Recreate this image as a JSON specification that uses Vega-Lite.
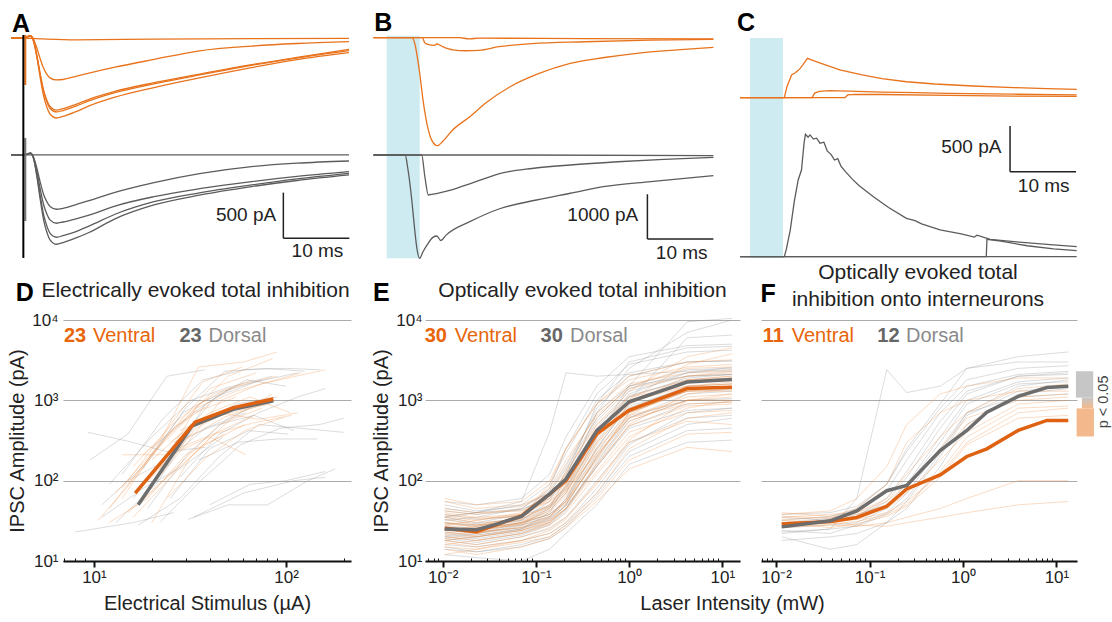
{
  "$schema": "https://vega.github.io/schema/vega-lite/v6.json",
  "width": 1112,
  "height": 561,
  "autosize": {"type": "none"},
  "padding": {"left": 0, "top": 0, "right": 0, "bottom": 61},
  "background": "white",
  "config": {
    "view": {"stroke": null},
    "font": "Liberation Sans",
    "axis": {"labelFont": "Liberation Sans", "titleFont": "Liberation Sans", "labelColor": "#222", "titleColor": "#222", "titleFontWeight": "normal", "labelFontSize": 17, "titleFontSize": 20, "gridColor": "#ababab", "gridWidth": 1.2, "domainColor": "#111", "tickColor": "#111"}
  },
  "datasets": {
    "aO": [
      {"i":1,"t":-2,"v":0},{"i":1,"t":0,"v":0},{"i":1,"t":3,"v":-10},{"i":1,"t":8,"v":-20},{"i":1,"t":20,"v":-12},{"i":1,"t":35,"v":-6},{"i":1,"t":50,"v":-3},
      {"i":2,"t":-2,"v":0},{"i":2,"t":0,"v":0},{"i":2,"t":1,"v":25},{"i":2,"t":1.5,"v":-20},{"i":2,"t":2,"v":-115},{"i":2,"t":2.5,"v":-230},{"i":2,"t":3,"v":-330},{"i":2,"t":3.5,"v":-395},{"i":2,"t":4,"v":-437},{"i":2,"t":5,"v":-460},{"i":2,"t":6,"v":-455},{"i":2,"t":8,"v":-420},{"i":2,"t":10,"v":-385},{"i":2,"t":14,"v":-320},{"i":2,"t":20,"v":-235},{"i":2,"t":27,"v":-140},{"i":2,"t":35,"v":-88},{"i":2,"t":42,"v":-60},{"i":2,"t":50,"v":-40},
      {"i":3,"t":-2,"v":0},{"i":3,"t":0,"v":0},{"i":3,"t":1,"v":25},{"i":3,"t":1.5,"v":-40},{"i":3,"t":2,"v":-200},{"i":3,"t":2.5,"v":-395},{"i":3,"t":3,"v":-570},{"i":3,"t":3.5,"v":-680},{"i":3,"t":4,"v":-750},{"i":3,"t":5,"v":-790},{"i":3,"t":6,"v":-775},{"i":3,"t":8,"v":-727},{"i":3,"t":10,"v":-672},{"i":3,"t":14,"v":-585},{"i":3,"t":20,"v":-490},{"i":3,"t":27,"v":-395},{"i":3,"t":35,"v":-292},{"i":3,"t":42,"v":-213},{"i":3,"t":50,"v":-124},
      {"i":4,"t":-2,"v":0},{"i":4,"t":0,"v":0},{"i":4,"t":1,"v":25},{"i":4,"t":1.5,"v":-40},{"i":4,"t":2,"v":-203},{"i":4,"t":2.5,"v":-405},{"i":4,"t":3,"v":-584},{"i":4,"t":3.5,"v":-697},{"i":4,"t":4,"v":-770},{"i":4,"t":5,"v":-811},{"i":4,"t":6,"v":-795},{"i":4,"t":8,"v":-746},{"i":4,"t":10,"v":-690},{"i":4,"t":14,"v":-600},{"i":4,"t":20,"v":-503},{"i":4,"t":27,"v":-405},{"i":4,"t":35,"v":-300},{"i":4,"t":42,"v":-220},{"i":4,"t":50,"v":-139},
      {"i":5,"t":-2,"v":0},{"i":5,"t":0,"v":0},{"i":5,"t":1,"v":25},{"i":5,"t":1.5,"v":-44},{"i":5,"t":2,"v":-219},{"i":5,"t":2.5,"v":-438},{"i":5,"t":3,"v":-631},{"i":5,"t":3.5,"v":-754},{"i":5,"t":4,"v":-833},{"i":5,"t":5,"v":-877},{"i":5,"t":6,"v":-860},{"i":5,"t":8,"v":-807},{"i":5,"t":10,"v":-745},{"i":5,"t":14,"v":-649},{"i":5,"t":20,"v":-544},{"i":5,"t":27,"v":-438},{"i":5,"t":35,"v":-325},{"i":5,"t":42,"v":-237},{"i":5,"t":50,"v":-161}
    ],
    "aG": [
      {"i":1,"t":-2,"v":0},{"i":1,"t":0,"v":0},{"i":1,"t":50,"v":0},
      {"i":2,"t":-2,"v":0},{"i":2,"t":0,"v":0},{"i":2,"t":1,"v":20},{"i":2,"t":1.5,"v":-30},{"i":2,"t":2,"v":-150},{"i":2,"t":2.5,"v":-300},{"i":2,"t":3,"v":-430},{"i":2,"t":3.5,"v":-510},{"i":2,"t":4,"v":-565},{"i":2,"t":5,"v":-595},{"i":2,"t":6,"v":-585},{"i":2,"t":8,"v":-545},{"i":2,"t":10,"v":-500},{"i":2,"t":14,"v":-410},{"i":2,"t":20,"v":-303},{"i":2,"t":27,"v":-205},{"i":2,"t":35,"v":-128},{"i":2,"t":42,"v":-90},{"i":2,"t":50,"v":-66},
      {"i":3,"t":-2,"v":0},{"i":3,"t":0,"v":0},{"i":3,"t":1,"v":20},{"i":3,"t":1.5,"v":-37},{"i":3,"t":2,"v":-187},{"i":3,"t":2.5,"v":-375},{"i":3,"t":3,"v":-540},{"i":3,"t":3.5,"v":-645},{"i":3,"t":4,"v":-712},{"i":3,"t":5,"v":-749},{"i":3,"t":6,"v":-735},{"i":3,"t":8,"v":-700},{"i":3,"t":10,"v":-660},{"i":3,"t":14,"v":-560},{"i":3,"t":20,"v":-457},{"i":3,"t":27,"v":-370},{"i":3,"t":35,"v":-292},{"i":3,"t":42,"v":-235},{"i":3,"t":50,"v":-183},
      {"i":4,"t":-2,"v":0},{"i":4,"t":0,"v":0},{"i":4,"t":1,"v":20},{"i":4,"t":1.5,"v":-45},{"i":4,"t":2,"v":-225},{"i":4,"t":2.5,"v":-450},{"i":4,"t":3,"v":-650},{"i":4,"t":3.5,"v":-775},{"i":4,"t":4,"v":-857},{"i":4,"t":5,"v":-902},{"i":4,"t":6,"v":-885},{"i":4,"t":8,"v":-840},{"i":4,"t":10,"v":-780},{"i":4,"t":14,"v":-650},{"i":4,"t":20,"v":-512},{"i":4,"t":27,"v":-415},{"i":4,"t":35,"v":-329},{"i":4,"t":42,"v":-262},{"i":4,"t":50,"v":-201},
      {"i":5,"t":-2,"v":0},{"i":5,"t":0,"v":0},{"i":5,"t":1,"v":20},{"i":5,"t":1.5,"v":-49},{"i":5,"t":2,"v":-245},{"i":5,"t":2.5,"v":-490},{"i":5,"t":3,"v":-705},{"i":5,"t":3.5,"v":-842},{"i":5,"t":4,"v":-930},{"i":5,"t":5,"v":-979},{"i":5,"t":6,"v":-960},{"i":5,"t":8,"v":-910},{"i":5,"t":10,"v":-850},{"i":5,"t":14,"v":-700},{"i":5,"t":20,"v":-548},{"i":5,"t":27,"v":-440},{"i":5,"t":35,"v":-347},{"i":5,"t":42,"v":-280},{"i":5,"t":50,"v":-219}
    ],
    "bO": [
      {"i":1,"t":-2,"v":0},{"i":1,"t":11,"v":0},{"i":1,"t":12.5,"v":-25},{"i":1,"t":14,"v":-10},{"i":1,"t":30,"v":-20},{"i":1,"t":49.5,"v":-25},
      {"i":2,"t":-2,"v":0},{"i":2,"t":5.4,"v":0},{"i":2,"t":5.8,"v":-120},{"i":2,"t":6.5,"v":-160},{"i":2,"t":7.2,"v":-170},{"i":2,"t":7.6,"v":-140},{"i":2,"t":8.5,"v":-200},{"i":2,"t":10,"v":-270},{"i":2,"t":12,"v":-290},{"i":2,"t":14,"v":-280},{"i":2,"t":17,"v":-200},{"i":2,"t":22,"v":-130},{"i":2,"t":30,"v":-90},{"i":2,"t":40,"v":-55},{"i":2,"t":49.5,"v":-35},
      {"i":3,"t":-2,"v":0},{"i":3,"t":3.8,"v":0},{"i":3,"t":4.2,"v":-100},{"i":3,"t":5,"v":-790},{"i":3,"t":5.5,"v":-1380},{"i":3,"t":6.2,"v":-1980},{"i":3,"t":6.8,"v":-2270},{"i":3,"t":7.7,"v":-2400},{"i":3,"t":8.5,"v":-2300},{"i":3,"t":10,"v":-2050},{"i":3,"t":12.6,"v":-1755},{"i":3,"t":15,"v":-1450},{"i":3,"t":18.7,"v":-1090},{"i":3,"t":23,"v":-800},{"i":3,"t":27.8,"v":-570},{"i":3,"t":33,"v":-440},{"i":3,"t":37.9,"v":-347},{"i":3,"t":44,"v":-270},{"i":3,"t":49.5,"v":-213}
    ],
    "bG": [
      {"i":1,"t":-2,"v":0},{"i":1,"t":20,"v":0},{"i":1,"t":49.5,"v":-15},
      {"i":2,"t":-2,"v":0},{"i":2,"t":5.3,"v":0},{"i":2,"t":5.8,"v":-500},{"i":2,"t":6.3,"v":-889},{"i":2,"t":7,"v":-870},{"i":2,"t":8,"v":-840},{"i":2,"t":10.1,"v":-763},{"i":2,"t":13,"v":-620},{"i":2,"t":17.7,"v":-393},{"i":2,"t":22,"v":-300},{"i":2,"t":27.8,"v":-222},{"i":2,"t":35,"v":-150},{"i":2,"t":42,"v":-95},{"i":2,"t":49.5,"v":-52},
      {"i":3,"t":-2,"v":0},{"i":3,"t":2.8,"v":0},{"i":3,"t":3.2,"v":-300},{"i":3,"t":3.8,"v":-1000},{"i":3,"t":4.2,"v":-1600},{"i":3,"t":4.6,"v":-2100},{"i":3,"t":5,"v":-2296},{"i":3,"t":5.5,"v":-2150},{"i":3,"t":6.2,"v":-1980},{"i":3,"t":7,"v":-1830},{"i":3,"t":7.6,"v":-1800},{"i":3,"t":8.2,"v":-1900},{"i":3,"t":9,"v":-1780},{"i":3,"t":12.6,"v":-1482},{"i":3,"t":17,"v":-1200},{"i":3,"t":22.7,"v":-1000},{"i":3,"t":27.8,"v":-850},{"i":3,"t":32.8,"v":-704},{"i":3,"t":40,"v":-590},{"i":3,"t":49.5,"v":-460}
    ],
    "cO": [
      {"i":1,"t":-1.5,"v":0},{"i":1,"t":5.2,"v":0},{"i":1,"t":5.6,"v":120},{"i":1,"t":6.3,"v":249},{"i":1,"t":6.8,"v":270},{"i":1,"t":7.3,"v":300},{"i":1,"t":7.6,"v":322},{"i":1,"t":8,"v":360},{"i":1,"t":8.7,"v":432},{"i":1,"t":9.5,"v":410},{"i":1,"t":11,"v":370},{"i":1,"t":13.6,"v":304},{"i":1,"t":17,"v":250},{"i":1,"t":20,"v":210},{"i":1,"t":23.7,"v":175},{"i":1,"t":28,"v":150},{"i":1,"t":33.8,"v":128},{"i":1,"t":40,"v":110},{"i":1,"t":45,"v":100},{"i":1,"t":49.5,"v":92},
      {"i":2,"t":-1.5,"v":0},{"i":2,"t":9.4,"v":0},{"i":2,"t":9.8,"v":50},{"i":2,"t":10.5,"v":70},{"i":2,"t":12,"v":77},{"i":2,"t":15,"v":72},{"i":2,"t":20,"v":62},{"i":2,"t":25,"v":55},{"i":2,"t":30,"v":48},{"i":2,"t":40,"v":38},{"i":2,"t":49.5,"v":30},
      {"i":3,"t":-1.5,"v":0},{"i":3,"t":14.4,"v":0},{"i":3,"t":14.8,"v":30},{"i":3,"t":16,"v":37},{"i":3,"t":20,"v":35},{"i":3,"t":30,"v":25},{"i":3,"t":40,"v":18},{"i":3,"t":49.5,"v":15}
    ],
    "cG": [
      {"i":1,"t":-1.5,"v":0},{"i":1,"t":5.2,"v":0},{"i":1,"t":5.5,"v":80},{"i":1,"t":6.1,"v":292},{"i":1,"t":6.7,"v":600},{"i":1,"t":7.3,"v":841},{"i":1,"t":7.8,"v":950},{"i":1,"t":8.2,"v":1250},{"i":1,"t":8.4,"v":1342},{"i":1,"t":8.8,"v":1310},{"i":1,"t":9.1,"v":1335},{"i":1,"t":9.6,"v":1290},{"i":1,"t":10.1,"v":1300},{"i":1,"t":10.6,"v":1245},{"i":1,"t":11.2,"v":1255},{"i":1,"t":11.7,"v":1160},{"i":1,"t":12.3,"v":1120},{"i":1,"t":12.8,"v":1060},{"i":1,"t":13.3,"v":1075},{"i":1,"t":13.8,"v":990},{"i":1,"t":14.5,"v":930},{"i":1,"t":15.5,"v":850},{"i":1,"t":16.5,"v":780},{"i":1,"t":18.7,"v":658},{"i":1,"t":21,"v":540},{"i":1,"t":23.7,"v":421},{"i":1,"t":25,"v":395},{"i":1,"t":26,"v":360},{"i":1,"t":28.8,"v":293},{"i":1,"t":32,"v":250},{"i":1,"t":34,"v":215},{"i":1,"t":34.4,"v":235},{"i":1,"t":36.4,"v":190},{"i":1,"t":40,"v":165},{"i":1,"t":45,"v":135},{"i":1,"t":49.5,"v":110},
      {"i":2,"t":-1.5,"v":0},{"i":2,"t":35.8,"v":0},{"i":2,"t":35.9,"v":190},{"i":2,"t":38,"v":170},{"i":2,"t":42,"v":120},{"i":2,"t":46,"v":85},{"i":2,"t":49.5,"v":66},
      {"i":3,"t":-1.5,"v":0},{"i":3,"t":49.5,"v":0}
    ],
    "dT": [
      {"g":"D","i":1,"x":8,"y":23},{"g":"D","i":1,"x":16,"y":30},{"g":"D","i":1,"x":26,"y":40},
      {"g":"D","i":2,"x":9.5,"y":180},{"g":"D","i":2,"x":15,"y":380},{"g":"D","i":2,"x":24,"y":2000},{"g":"D","i":2,"x":38,"y":2400},
      {"g":"D","i":3,"x":9.3,"y":400},{"g":"D","i":3,"x":15,"y":310},{"g":"D","i":3,"x":24,"y":230},{"g":"D","i":3,"x":38,"y":260},
      {"g":"D","i":4,"x":11,"y":50},{"g":"D","i":4,"x":18,"y":150},{"g":"D","i":4,"x":29,"y":700},{"g":"D","i":4,"x":47,"y":1300},{"g":"D","i":4,"x":75,"y":1800},
      {"g":"D","i":5,"x":13,"y":30},{"g":"D","i":5,"x":21,"y":90},{"g":"D","i":5,"x":34,"y":500},{"g":"D","i":5,"x":55,"y":900},{"g":"D","i":5,"x":90,"y":1100},
      {"g":"D","i":6,"x":17,"y":28},{"g":"D","i":6,"x":28,"y":60},{"g":"D","i":6,"x":45,"y":200},{"g":"D","i":6,"x":72,"y":500},{"g":"D","i":6,"x":200,"y":400},
      {"g":"D","i":7,"x":31,"y":33},{"g":"D","i":7,"x":50,"y":50},{"g":"D","i":7,"x":80,"y":50},{"g":"D","i":7,"x":130,"y":100},{"g":"D","i":7,"x":180,"y":140},
      {"g":"D","i":8,"x":33,"y":35},{"g":"D","i":8,"x":60,"y":70},{"g":"D","i":8,"x":110,"y":100},{"g":"D","i":8,"x":160,"y":110},
      {"g":"D","i":9,"x":14,"y":120},{"g":"D","i":9,"x":23,"y":600},{"g":"D","i":9,"x":37,"y":1800},{"g":"D","i":9,"x":60,"y":2400},{"g":"D","i":9,"x":100,"y":2500},{"g":"D","i":9,"x":150,"y":2400},
      {"g":"D","i":10,"x":16,"y":60},{"g":"D","i":10,"x":27,"y":300},{"g":"D","i":10,"x":43,"y":1100},{"g":"D","i":10,"x":70,"y":1700},{"g":"D","i":10,"x":115,"y":2200},
      {"g":"D","i":11,"x":19,"y":45},{"g":"D","i":11,"x":31,"y":220},{"g":"D","i":11,"x":50,"y":600},{"g":"D","i":11,"x":80,"y":1000},
      {"g":"D","i":12,"x":22,"y":30},{"g":"D","i":12,"x":36,"y":100},{"g":"D","i":12,"x":58,"y":280},{"g":"D","i":12,"x":93,"y":450},{"g":"D","i":12,"x":150,"y":500},{"g":"D","i":12,"x":200,"y":600},
      {"g":"D","i":13,"x":12,"y":90},{"g":"D","i":13,"x":20,"y":350},{"g":"D","i":13,"x":32,"y":1000},{"g":"D","i":13,"x":52,"y":1500},
      {"g":"D","i":14,"x":25,"y":60},{"g":"D","i":14,"x":40,"y":250},{"g":"D","i":14,"x":64,"y":420},{"g":"D","i":14,"x":103,"y":380},
      {"g":"D","i":15,"x":18,"y":140},{"g":"D","i":15,"x":30,"y":800},{"g":"D","i":15,"x":48,"y":2300},{"g":"D","i":15,"x":78,"y":2500},{"g":"D","i":15,"x":125,"y":2300},
      {"g":"D","i":16,"x":28,"y":110},{"g":"D","i":16,"x":45,"y":380},{"g":"D","i":16,"x":72,"y":700},{"g":"D","i":16,"x":115,"y":1100},{"g":"D","i":16,"x":160,"y":1400},
      {"g":"D","i":17,"x":20,"y":250},{"g":"D","i":17,"x":33,"y":700},{"g":"D","i":17,"x":53,"y":1500},{"g":"D","i":17,"x":85,"y":2000},
      {"g":"D","i":18,"x":15,"y":100},{"g":"D","i":18,"x":24,"y":180},{"g":"D","i":18,"x":38,"y":450},{"g":"D","i":18,"x":62,"y":700},
      {"g":"D","i":19,"x":40,"y":50},{"g":"D","i":19,"x":65,"y":90},{"g":"D","i":19,"x":100,"y":100},{"g":"D","i":19,"x":160,"y":130},
      {"g":"D","i":20,"x":26,"y":300},{"g":"D","i":20,"x":42,"y":480},{"g":"D","i":20,"x":68,"y":650},{"g":"D","i":20,"x":110,"y":420},
      {"g":"D","i":21,"x":11,"y":35},{"g":"D","i":21,"x":18,"y":80},{"g":"D","i":21,"x":29,"y":150},{"g":"D","i":21,"x":47,"y":350},
      {"g":"D","i":22,"x":35,"y":180},{"g":"D","i":22,"x":56,"y":300},{"g":"D","i":22,"x":90,"y":330},{"g":"D","i":22,"x":145,"y":330},
      {"g":"D","i":23,"x":24,"y":150},{"g":"D","i":23,"x":38,"y":900},{"g":"D","i":23,"x":62,"y":1800},{"g":"D","i":23,"x":100,"y":1500},
      {"g":"V","i":1,"x":10.5,"y":32},{"g":"V","i":1,"x":17,"y":120},{"g":"V","i":1,"x":26,"y":450},{"g":"V","i":1,"x":40,"y":900},
      {"g":"V","i":2,"x":12,"y":45},{"g":"V","i":2,"x":20,"y":210},{"g":"V","i":2,"x":33,"y":700},{"g":"V","i":2,"x":55,"y":1100},
      {"g":"V","i":3,"x":14,"y":60},{"g":"V","i":3,"x":22,"y":300},{"g":"V","i":3,"x":35,"y":2600},{"g":"V","i":3,"x":60,"y":3000},{"g":"V","i":3,"x":90,"y":4000},
      {"g":"V","i":4,"x":15,"y":90},{"g":"V","i":4,"x":25,"y":400},{"g":"V","i":4,"x":40,"y":1400},{"g":"V","i":4,"x":70,"y":2200},
      {"g":"V","i":5,"x":16,"y":35},{"g":"V","i":5,"x":26,"y":120},{"g":"V","i":5,"x":42,"y":380},{"g":"V","i":5,"x":68,"y":650},
      {"g":"V","i":6,"x":18,"y":210},{"g":"V","i":6,"x":30,"y":600},{"g":"V","i":6,"x":50,"y":2000},{"g":"V","i":6,"x":85,"y":3300},
      {"g":"V","i":7,"x":14,"y":210},{"g":"V","i":7,"x":25,"y":210},{"g":"V","i":7,"x":40,"y":350},{"g":"V","i":7,"x":62,"y":210},
      {"g":"V","i":8,"x":20,"y":30},{"g":"V","i":8,"x":32,"y":200},{"g":"V","i":8,"x":52,"y":600},{"g":"V","i":8,"x":85,"y":1200},
      {"g":"V","i":9,"x":13,"y":70},{"g":"V","i":9,"x":21,"y":250},{"g":"V","i":9,"x":34,"y":800},{"g":"V","i":9,"x":55,"y":1300},{"g":"V","i":9,"x":120,"y":2200},
      {"g":"V","i":10,"x":17,"y":50},{"g":"V","i":10,"x":28,"y":160},{"g":"V","i":10,"x":45,"y":500},{"g":"V","i":10,"x":75,"y":800},
      {"g":"V","i":11,"x":22,"y":140},{"g":"V","i":11,"x":35,"y":900},{"g":"V","i":11,"x":56,"y":1500},{"g":"V","i":11,"x":90,"y":2000},
      {"g":"V","i":12,"x":25,"y":300},{"g":"V","i":12,"x":40,"y":700},{"g":"V","i":12,"x":65,"y":1100},{"g":"V","i":12,"x":105,"y":700},
      {"g":"V","i":13,"x":19,"y":95},{"g":"V","i":13,"x":30,"y":330},{"g":"V","i":13,"x":48,"y":620},{"g":"V","i":13,"x":78,"y":900},
      {"g":"V","i":14,"x":15,"y":40},{"g":"V","i":14,"x":24,"y":110},{"g":"V","i":14,"x":38,"y":280},{"g":"V","i":14,"x":61,"y":500},
      {"g":"V","i":15,"x":28,"y":420},{"g":"V","i":15,"x":45,"y":700},{"g":"V","i":15,"x":72,"y":580},{"g":"V","i":15,"x":115,"y":700},
      {"g":"V","i":16,"x":18,"y":65},{"g":"V","i":16,"x":29,"y":250},{"g":"V","i":16,"x":46,"y":1000},{"g":"V","i":16,"x":74,"y":1600},{"g":"V","i":16,"x":160,"y":2400},
      {"g":"V","i":17,"x":12,"y":30},{"g":"V","i":17,"x":19,"y":60},{"g":"V","i":17,"x":30,"y":210},{"g":"V","i":17,"x":48,"y":380},
      {"g":"V","i":18,"x":21,"y":110},{"g":"V","i":18,"x":34,"y":450},{"g":"V","i":18,"x":54,"y":800},{"g":"V","i":18,"x":87,"y":1100},
      {"g":"V","i":19,"x":16,"y":150},{"g":"V","i":19,"x":26,"y":520},{"g":"V","i":19,"x":42,"y":1200},{"g":"V","i":19,"x":67,"y":1800},
      {"g":"V","i":20,"x":24,"y":60},{"g":"V","i":20,"x":38,"y":190},{"g":"V","i":20,"x":61,"y":420},{"g":"V","i":20,"x":98,"y":620},
      {"g":"V","i":21,"x":14,"y":80},{"g":"V","i":21,"x":23,"y":380},{"g":"V","i":21,"x":37,"y":1700},{"g":"V","i":21,"x":59,"y":2600},
      {"g":"V","i":22,"x":20,"y":180},{"g":"V","i":22,"x":32,"y":500},{"g":"V","i":22,"x":51,"y":700},{"g":"V","i":22,"x":82,"y":900},
      {"g":"V","i":23,"x":26,"y":240},{"g":"V","i":23,"x":42,"y":380},{"g":"V","i":23,"x":67,"y":520},{"g":"V","i":23,"x":107,"y":650}
    ],
    "dM": [
      {"g":"D","x":17,"y":50},{"g":"D","x":32.3,"y":477},{"g":"D","x":53,"y":772},{"g":"D","x":86,"y":990},
      {"g":"V","x":16.4,"y":70},{"g":"V","x":33.6,"y":535},{"g":"V","x":53.2,"y":811},{"g":"V","x":85.9,"y":1040}
    ],
    "eT": [
      {"g":"D","i":1,"x":0.0105,"y":22},{"g":"D","i":1,"x":0.023,"y":20},{"g":"D","i":1,"x":0.07,"y":25},{"g":"D","i":1,"x":0.14,"y":40},{"g":"D","i":1,"x":0.21,"y":90},{"g":"D","i":1,"x":0.45,"y":700},{"g":"D","i":1,"x":1,"y":2500},{"g":"D","i":1,"x":4.2,"y":7000},{"g":"D","i":1,"x":12.7,"y":10000},
      {"g":"D","i":2,"x":0.0105,"y":30},{"g":"D","i":2,"x":0.023,"y":28},{"g":"D","i":2,"x":0.07,"y":32},{"g":"D","i":2,"x":0.14,"y":55},{"g":"D","i":2,"x":0.21,"y":130},{"g":"D","i":2,"x":0.45,"y":800},{"g":"D","i":2,"x":1,"y":2000},{"g":"D","i":2,"x":4.2,"y":3000},{"g":"D","i":2,"x":12.7,"y":3100},
      {"g":"D","i":3,"x":0.0105,"y":18},{"g":"D","i":3,"x":0.023,"y":16},{"g":"D","i":3,"x":0.07,"y":20},{"g":"D","i":3,"x":0.14,"y":25},{"g":"D","i":3,"x":0.21,"y":35},{"g":"D","i":3,"x":0.45,"y":100},{"g":"D","i":3,"x":1,"y":300},{"g":"D","i":3,"x":4.2,"y":600},{"g":"D","i":3,"x":12.7,"y":650},
      {"g":"D","i":4,"x":0.0105,"y":35},{"g":"D","i":4,"x":0.023,"y":40},{"g":"D","i":4,"x":0.07,"y":55},{"g":"D","i":4,"x":0.14,"y":400},{"g":"D","i":4,"x":0.21,"y":2200},{"g":"D","i":4,"x":0.45,"y":2000},{"g":"D","i":4,"x":1,"y":2100},{"g":"D","i":4,"x":4.2,"y":2300},{"g":"D","i":4,"x":12.7,"y":2400},
      {"g":"D","i":5,"x":0.0105,"y":25},{"g":"D","i":5,"x":0.023,"y":24},{"g":"D","i":5,"x":0.07,"y":28},{"g":"D","i":5,"x":0.14,"y":36},{"g":"D","i":5,"x":0.21,"y":55},{"g":"D","i":5,"x":0.45,"y":250},{"g":"D","i":5,"x":1,"y":900},{"g":"D","i":5,"x":4.2,"y":1700},{"g":"D","i":5,"x":12.7,"y":1800},
      {"g":"D","i":6,"x":0.0105,"y":15},{"g":"D","i":6,"x":0.023,"y":13},{"g":"D","i":6,"x":0.07,"y":16},{"g":"D","i":6,"x":0.14,"y":20},{"g":"D","i":6,"x":0.21,"y":28},{"g":"D","i":6,"x":0.45,"y":70},{"g":"D","i":6,"x":1,"y":230},{"g":"D","i":6,"x":4.2,"y":500},{"g":"D","i":6,"x":12.7,"y":600},
      {"g":"D","i":7,"x":0.0105,"y":50},{"g":"D","i":7,"x":0.023,"y":42},{"g":"D","i":7,"x":0.07,"y":48},{"g":"D","i":7,"x":0.14,"y":70},{"g":"D","i":7,"x":0.21,"y":140},{"g":"D","i":7,"x":0.45,"y":600},{"g":"D","i":7,"x":1,"y":1500},{"g":"D","i":7,"x":4.2,"y":2400},{"g":"D","i":7,"x":12.7,"y":2500},
      {"g":"D","i":8,"x":0.0105,"y":20},{"g":"D","i":8,"x":0.023,"y":22},{"g":"D","i":8,"x":0.07,"y":28},{"g":"D","i":8,"x":0.14,"y":45},{"g":"D","i":8,"x":0.21,"y":110},{"g":"D","i":8,"x":0.45,"y":900},{"g":"D","i":8,"x":1,"y":3000},{"g":"D","i":8,"x":4.2,"y":4500},{"g":"D","i":8,"x":12.7,"y":4700},
      {"g":"D","i":9,"x":0.0105,"y":28},{"g":"D","i":9,"x":0.023,"y":25},{"g":"D","i":9,"x":0.07,"y":30},{"g":"D","i":9,"x":0.14,"y":42},{"g":"D","i":9,"x":0.21,"y":70},{"g":"D","i":9,"x":0.45,"y":350},{"g":"D","i":9,"x":1,"y":1100},{"g":"D","i":9,"x":4.2,"y":1900},{"g":"D","i":9,"x":12.7,"y":2100},
      {"g":"D","i":10,"x":0.0105,"y":12},{"g":"D","i":10,"x":0.023,"y":11},{"g":"D","i":10,"x":0.07,"y":10},{"g":"D","i":10,"x":0.14,"y":14},{"g":"D","i":10,"x":0.21,"y":22},{"g":"D","i":10,"x":0.45,"y":50},{"g":"D","i":10,"x":1,"y":160},{"g":"D","i":10,"x":4.2,"y":300},{"g":"D","i":10,"x":12.7,"y":320},
      {"g":"D","i":11,"x":0.0105,"y":35},{"g":"D","i":11,"x":0.023,"y":30},{"g":"D","i":11,"x":0.07,"y":38},{"g":"D","i":11,"x":0.14,"y":80},{"g":"D","i":11,"x":0.21,"y":250},{"g":"D","i":11,"x":0.45,"y":1200},{"g":"D","i":11,"x":1,"y":2800},{"g":"D","i":11,"x":4.2,"y":4000},{"g":"D","i":11,"x":12.7,"y":4200},
      {"g":"D","i":12,"x":0.0105,"y":24},{"g":"D","i":12,"x":0.023,"y":26},{"g":"D","i":12,"x":0.07,"y":30},{"g":"D","i":12,"x":0.14,"y":38},{"g":"D","i":12,"x":0.21,"y":55},{"g":"D","i":12,"x":0.45,"y":220},{"g":"D","i":12,"x":1,"y":800},{"g":"D","i":12,"x":4.2,"y":1500},{"g":"D","i":12,"x":12.7,"y":1600},
      {"g":"D","i":13,"x":0.0105,"y":19},{"g":"D","i":13,"x":0.023,"y":17},{"g":"D","i":13,"x":0.07,"y":21},{"g":"D","i":13,"x":0.14,"y":28},{"g":"D","i":13,"x":0.21,"y":42},{"g":"D","i":13,"x":0.45,"y":150},{"g":"D","i":13,"x":1,"y":480},{"g":"D","i":13,"x":4.2,"y":900},{"g":"D","i":13,"x":12.7,"y":950},
      {"g":"D","i":14,"x":0.0105,"y":45},{"g":"D","i":14,"x":0.023,"y":40},{"g":"D","i":14,"x":0.07,"y":44},{"g":"D","i":14,"x":0.14,"y":60},{"g":"D","i":14,"x":0.21,"y":95},{"g":"D","i":14,"x":0.45,"y":450},{"g":"D","i":14,"x":1,"y":1300},{"g":"D","i":14,"x":4.2,"y":2000},{"g":"D","i":14,"x":12.7,"y":2100},
      {"g":"D","i":15,"x":0.0105,"y":27},{"g":"D","i":15,"x":0.023,"y":23},{"g":"D","i":15,"x":0.07,"y":26},{"g":"D","i":15,"x":0.14,"y":35},{"g":"D","i":15,"x":0.21,"y":60},{"g":"D","i":15,"x":0.45,"y":300},{"g":"D","i":15,"x":1,"y":1000},{"g":"D","i":15,"x":4.2,"y":6000},{"g":"D","i":15,"x":12.7,"y":6500},
      {"g":"D","i":16,"x":0.0105,"y":32},{"g":"D","i":16,"x":0.023,"y":35},{"g":"D","i":16,"x":0.07,"y":45},{"g":"D","i":16,"x":0.14,"y":75},{"g":"D","i":16,"x":0.21,"y":160},{"g":"D","i":16,"x":0.45,"y":700},{"g":"D","i":16,"x":1,"y":1500},{"g":"D","i":16,"x":4.2,"y":2000},{"g":"D","i":16,"x":12.7,"y":2100},
      {"g":"D","i":17,"x":0.0105,"y":16},{"g":"D","i":17,"x":0.023,"y":15},{"g":"D","i":17,"x":0.07,"y":18},{"g":"D","i":17,"x":0.14,"y":22},{"g":"D","i":17,"x":0.21,"y":30},{"g":"D","i":17,"x":0.45,"y":80},{"g":"D","i":17,"x":1,"y":280},{"g":"D","i":17,"x":4.2,"y":700},{"g":"D","i":17,"x":12.7,"y":800},
      {"g":"D","i":18,"x":0.0105,"y":38},{"g":"D","i":18,"x":0.023,"y":33},{"g":"D","i":18,"x":0.07,"y":36},{"g":"D","i":18,"x":0.14,"y":50},{"g":"D","i":18,"x":0.21,"y":85},{"g":"D","i":18,"x":0.45,"y":400},{"g":"D","i":18,"x":1,"y":1200},{"g":"D","i":18,"x":4.2,"y":2200},{"g":"D","i":18,"x":12.7,"y":2600},
      {"g":"D","i":19,"x":0.0105,"y":21},{"g":"D","i":19,"x":0.023,"y":19},{"g":"D","i":19,"x":0.07,"y":23},{"g":"D","i":19,"x":0.14,"y":30},{"g":"D","i":19,"x":0.21,"y":45},{"g":"D","i":19,"x":0.45,"y":170},{"g":"D","i":19,"x":1,"y":600},{"g":"D","i":19,"x":4.2,"y":1200},{"g":"D","i":19,"x":12.7,"y":1300},
      {"g":"D","i":20,"x":0.0105,"y":55},{"g":"D","i":20,"x":0.023,"y":50},{"g":"D","i":20,"x":0.07,"y":60},{"g":"D","i":20,"x":0.14,"y":120},{"g":"D","i":20,"x":0.21,"y":350},{"g":"D","i":20,"x":0.45,"y":1500},{"g":"D","i":20,"x":1,"y":3500},{"g":"D","i":20,"x":4.2,"y":4800},{"g":"D","i":20,"x":12.7,"y":5000},
      {"g":"D","i":21,"x":0.0105,"y":26},{"g":"D","i":21,"x":0.023,"y":24},{"g":"D","i":21,"x":0.07,"y":29},{"g":"D","i":21,"x":0.14,"y":38},{"g":"D","i":21,"x":0.21,"y":58},{"g":"D","i":21,"x":0.45,"y":260},{"g":"D","i":21,"x":1,"y":850},{"g":"D","i":21,"x":4.2,"y":1400},{"g":"D","i":21,"x":12.7,"y":1450},
      {"g":"D","i":22,"x":0.0105,"y":14},{"g":"D","i":22,"x":0.023,"y":13},{"g":"D","i":22,"x":0.07,"y":15},{"g":"D","i":22,"x":0.14,"y":19},{"g":"D","i":22,"x":0.21,"y":26},{"g":"D","i":22,"x":0.45,"y":65},{"g":"D","i":22,"x":1,"y":200},{"g":"D","i":22,"x":4.2,"y":420},{"g":"D","i":22,"x":12.7,"y":450},
      {"g":"D","i":23,"x":0.0105,"y":33},{"g":"D","i":23,"x":0.023,"y":29},{"g":"D","i":23,"x":0.07,"y":34},{"g":"D","i":23,"x":0.14,"y":48},{"g":"D","i":23,"x":0.21,"y":80},{"g":"D","i":23,"x":0.45,"y":380},{"g":"D","i":23,"x":1,"y":1150},{"g":"D","i":23,"x":4.2,"y":1800},{"g":"D","i":23,"x":12.7,"y":1900},
      {"g":"D","i":24,"x":0.0105,"y":23},{"g":"D","i":24,"x":0.023,"y":21},{"g":"D","i":24,"x":0.07,"y":25},{"g":"D","i":24,"x":0.14,"y":33},{"g":"D","i":24,"x":0.21,"y":50},{"g":"D","i":24,"x":0.45,"y":200},{"g":"D","i":24,"x":1,"y":700},{"g":"D","i":24,"x":4.2,"y":1300},{"g":"D","i":24,"x":12.7,"y":1350},
      {"g":"D","i":25,"x":0.0105,"y":42},{"g":"D","i":25,"x":0.023,"y":38},{"g":"D","i":25,"x":0.07,"y":43},{"g":"D","i":25,"x":0.14,"y":65},{"g":"D","i":25,"x":0.21,"y":120},{"g":"D","i":25,"x":0.45,"y":550},{"g":"D","i":25,"x":1,"y":1400},{"g":"D","i":25,"x":4.2,"y":2200},{"g":"D","i":25,"x":12.7,"y":2300},
      {"g":"D","i":26,"x":0.0105,"y":18},{"g":"D","i":26,"x":0.023,"y":20},{"g":"D","i":26,"x":0.07,"y":24},{"g":"D","i":26,"x":0.14,"y":32},{"g":"D","i":26,"x":0.21,"y":50},{"g":"D","i":26,"x":0.45,"y":190},{"g":"D","i":26,"x":1,"y":620},{"g":"D","i":26,"x":4.2,"y":1000},{"g":"D","i":26,"x":12.7,"y":1050},
      {"g":"D","i":27,"x":0.0105,"y":30},{"g":"D","i":27,"x":0.023,"y":27},{"g":"D","i":27,"x":0.07,"y":32},{"g":"D","i":27,"x":0.14,"y":46},{"g":"D","i":27,"x":0.21,"y":75},{"g":"D","i":27,"x":0.45,"y":340},{"g":"D","i":27,"x":1,"y":1500},{"g":"D","i":27,"x":4.2,"y":9500},{"g":"D","i":27,"x":12.7,"y":10500},
      {"g":"D","i":28,"x":0.0105,"y":24},{"g":"D","i":28,"x":0.023,"y":22},{"g":"D","i":28,"x":0.07,"y":26},{"g":"D","i":28,"x":0.14,"y":34},{"g":"D","i":28,"x":0.21,"y":48},{"g":"D","i":28,"x":0.45,"y":150},{"g":"D","i":28,"x":1,"y":450},{"g":"D","i":28,"x":4.2,"y":750},{"g":"D","i":28,"x":12.7,"y":800},
      {"g":"D","i":29,"x":0.0105,"y":36},{"g":"D","i":29,"x":0.023,"y":40},{"g":"D","i":29,"x":0.07,"y":50},{"g":"D","i":29,"x":0.14,"y":90},{"g":"D","i":29,"x":0.21,"y":220},{"g":"D","i":29,"x":0.45,"y":1000},{"g":"D","i":29,"x":1,"y":2200},{"g":"D","i":29,"x":4.2,"y":3000},{"g":"D","i":29,"x":12.7,"y":3100},
      {"g":"D","i":30,"x":0.0105,"y":20},{"g":"D","i":30,"x":0.023,"y":18},{"g":"D","i":30,"x":0.07,"y":22},{"g":"D","i":30,"x":0.14,"y":29},{"g":"D","i":30,"x":0.21,"y":44},{"g":"D","i":30,"x":0.45,"y":160},{"g":"D","i":30,"x":1,"y":550},{"g":"D","i":30,"x":4.2,"y":1000},{"g":"D","i":30,"x":12.7,"y":1000},
      {"g":"V","i":1,"x":0.0105,"y":25},{"g":"V","i":1,"x":0.023,"y":22},{"g":"V","i":1,"x":0.07,"y":30},{"g":"V","i":1,"x":0.14,"y":45},{"g":"V","i":1,"x":0.21,"y":80},{"g":"V","i":1,"x":0.45,"y":350},{"g":"V","i":1,"x":1,"y":900},{"g":"V","i":1,"x":4.2,"y":1800},{"g":"V","i":1,"x":12.7,"y":2000},
      {"g":"V","i":2,"x":0.0105,"y":40},{"g":"V","i":2,"x":0.023,"y":35},{"g":"V","i":2,"x":0.07,"y":38},{"g":"V","i":2,"x":0.14,"y":60},{"g":"V","i":2,"x":0.21,"y":120},{"g":"V","i":2,"x":0.45,"y":600},{"g":"V","i":2,"x":1,"y":1500},{"g":"V","i":2,"x":4.2,"y":2500},{"g":"V","i":2,"x":12.7,"y":2600},
      {"g":"V","i":3,"x":0.0105,"y":18},{"g":"V","i":3,"x":0.023,"y":20},{"g":"V","i":3,"x":0.07,"y":24},{"g":"V","i":3,"x":0.14,"y":30},{"g":"V","i":3,"x":0.21,"y":45},{"g":"V","i":3,"x":0.45,"y":150},{"g":"V","i":3,"x":1,"y":500},{"g":"V","i":3,"x":4.2,"y":1200},{"g":"V","i":3,"x":12.7,"y":1400},
      {"g":"V","i":4,"x":0.0105,"y":30},{"g":"V","i":4,"x":0.023,"y":28},{"g":"V","i":4,"x":0.07,"y":35},{"g":"V","i":4,"x":0.14,"y":90},{"g":"V","i":4,"x":0.21,"y":250},{"g":"V","i":4,"x":0.45,"y":900},{"g":"V","i":4,"x":1,"y":1800},{"g":"V","i":4,"x":4.2,"y":2600},{"g":"V","i":4,"x":12.7,"y":2800},
      {"g":"V","i":5,"x":0.0105,"y":15},{"g":"V","i":5,"x":0.023,"y":14},{"g":"V","i":5,"x":0.07,"y":18},{"g":"V","i":5,"x":0.14,"y":22},{"g":"V","i":5,"x":0.21,"y":30},{"g":"V","i":5,"x":0.45,"y":70},{"g":"V","i":5,"x":1,"y":250},{"g":"V","i":5,"x":4.2,"y":600},{"g":"V","i":5,"x":12.7,"y":700},
      {"g":"V","i":6,"x":0.0105,"y":55},{"g":"V","i":6,"x":0.023,"y":45},{"g":"V","i":6,"x":0.07,"y":50},{"g":"V","i":6,"x":0.14,"y":70},{"g":"V","i":6,"x":0.21,"y":110},{"g":"V","i":6,"x":0.45,"y":400},{"g":"V","i":6,"x":1,"y":1000},{"g":"V","i":6,"x":4.2,"y":1700},{"g":"V","i":6,"x":12.7,"y":1900},
      {"g":"V","i":7,"x":0.0105,"y":22},{"g":"V","i":7,"x":0.023,"y":25},{"g":"V","i":7,"x":0.07,"y":28},{"g":"V","i":7,"x":0.14,"y":35},{"g":"V","i":7,"x":0.21,"y":60},{"g":"V","i":7,"x":0.45,"y":250},{"g":"V","i":7,"x":1,"y":700},{"g":"V","i":7,"x":4.2,"y":1300},{"g":"V","i":7,"x":12.7,"y":1300},
      {"g":"V","i":8,"x":0.0105,"y":35},{"g":"V","i":8,"x":0.023,"y":30},{"g":"V","i":8,"x":0.07,"y":33},{"g":"V","i":8,"x":0.14,"y":50},{"g":"V","i":8,"x":0.21,"y":90},{"g":"V","i":8,"x":0.45,"y":500},{"g":"V","i":8,"x":1,"y":1300},{"g":"V","i":8,"x":4.2,"y":3500},{"g":"V","i":8,"x":12.7,"y":4500},
      {"g":"V","i":9,"x":0.0105,"y":20},{"g":"V","i":9,"x":0.023,"y":18},{"g":"V","i":9,"x":0.07,"y":22},{"g":"V","i":9,"x":0.14,"y":28},{"g":"V","i":9,"x":0.21,"y":40},{"g":"V","i":9,"x":0.45,"y":120},{"g":"V","i":9,"x":1,"y":350},{"g":"V","i":9,"x":4.2,"y":800},{"g":"V","i":9,"x":12.7,"y":1000},
      {"g":"V","i":10,"x":0.0105,"y":28},{"g":"V","i":10,"x":0.023,"y":32},{"g":"V","i":10,"x":0.07,"y":40},{"g":"V","i":10,"x":0.14,"y":70},{"g":"V","i":10,"x":0.21,"y":150},{"g":"V","i":10,"x":0.45,"y":700},{"g":"V","i":10,"x":1,"y":1600},{"g":"V","i":10,"x":4.2,"y":2200},{"g":"V","i":10,"x":12.7,"y":2400},
      {"g":"V","i":11,"x":0.0105,"y":12},{"g":"V","i":11,"x":0.023,"y":14},{"g":"V","i":11,"x":0.07,"y":17},{"g":"V","i":11,"x":0.14,"y":20},{"g":"V","i":11,"x":0.21,"y":28},{"g":"V","i":11,"x":0.45,"y":60},{"g":"V","i":11,"x":1,"y":180},{"g":"V","i":11,"x":4.2,"y":380},{"g":"V","i":11,"x":12.7,"y":400},
      {"g":"V","i":12,"x":0.0105,"y":45},{"g":"V","i":12,"x":0.023,"y":40},{"g":"V","i":12,"x":0.07,"y":42},{"g":"V","i":12,"x":0.14,"y":55},{"g":"V","i":12,"x":0.21,"y":80},{"g":"V","i":12,"x":0.45,"y":300},{"g":"V","i":12,"x":1,"y":800},{"g":"V","i":12,"x":4.2,"y":1300},{"g":"V","i":12,"x":12.7,"y":1500},
      {"g":"V","i":13,"x":0.0105,"y":26},{"g":"V","i":13,"x":0.023,"y":24},{"g":"V","i":13,"x":0.07,"y":30},{"g":"V","i":13,"x":0.14,"y":38},{"g":"V","i":13,"x":0.21,"y":55},{"g":"V","i":13,"x":0.45,"y":180},{"g":"V","i":13,"x":1,"y":550},{"g":"V","i":13,"x":4.2,"y":1000},{"g":"V","i":13,"x":12.7,"y":1100},
      {"g":"V","i":14,"x":0.0105,"y":33},{"g":"V","i":14,"x":0.023,"y":28},{"g":"V","i":14,"x":0.07,"y":31},{"g":"V","i":14,"x":0.14,"y":45},{"g":"V","i":14,"x":0.21,"y":70},{"g":"V","i":14,"x":0.45,"y":280},{"g":"V","i":14,"x":1,"y":900},{"g":"V","i":14,"x":4.2,"y":2000},{"g":"V","i":14,"x":12.7,"y":2300},
      {"g":"V","i":15,"x":0.0105,"y":18},{"g":"V","i":15,"x":0.023,"y":16},{"g":"V","i":15,"x":0.07,"y":20},{"g":"V","i":15,"x":0.14,"y":26},{"g":"V","i":15,"x":0.21,"y":35},{"g":"V","i":15,"x":0.45,"y":90},{"g":"V","i":15,"x":1,"y":300},{"g":"V","i":15,"x":4.2,"y":550},{"g":"V","i":15,"x":12.7,"y":500},
      {"g":"V","i":16,"x":0.0105,"y":24},{"g":"V","i":16,"x":0.023,"y":27},{"g":"V","i":16,"x":0.07,"y":35},{"g":"V","i":16,"x":0.14,"y":60},{"g":"V","i":16,"x":0.21,"y":130},{"g":"V","i":16,"x":0.45,"y":500},{"g":"V","i":16,"x":1,"y":1100},{"g":"V","i":16,"x":4.2,"y":1500},{"g":"V","i":16,"x":12.7,"y":1600},
      {"g":"V","i":17,"x":0.0105,"y":38},{"g":"V","i":17,"x":0.023,"y":34},{"g":"V","i":17,"x":0.07,"y":36},{"g":"V","i":17,"x":0.14,"y":48},{"g":"V","i":17,"x":0.21,"y":75},{"g":"V","i":17,"x":0.45,"y":220},{"g":"V","i":17,"x":1,"y":600},{"g":"V","i":17,"x":4.2,"y":900},{"g":"V","i":17,"x":12.7,"y":950},
      {"g":"V","i":18,"x":0.0105,"y":16},{"g":"V","i":18,"x":0.023,"y":18},{"g":"V","i":18,"x":0.07,"y":22},{"g":"V","i":18,"x":0.14,"y":30},{"g":"V","i":18,"x":0.21,"y":50},{"g":"V","i":18,"x":0.45,"y":200},{"g":"V","i":18,"x":1,"y":650},{"g":"V","i":18,"x":4.2,"y":1500},{"g":"V","i":18,"x":12.7,"y":1700},
      {"g":"V","i":19,"x":0.0105,"y":30},{"g":"V","i":19,"x":0.023,"y":26},{"g":"V","i":19,"x":0.07,"y":29},{"g":"V","i":19,"x":0.14,"y":40},{"g":"V","i":19,"x":0.21,"y":65},{"g":"V","i":19,"x":0.45,"y":240},{"g":"V","i":19,"x":1,"y":650},{"g":"V","i":19,"x":4.2,"y":1000},{"g":"V","i":19,"x":12.7,"y":1000},
      {"g":"V","i":20,"x":0.0105,"y":21},{"g":"V","i":20,"x":0.023,"y":23},{"g":"V","i":20,"x":0.07,"y":26},{"g":"V","i":20,"x":0.14,"y":32},{"g":"V","i":20,"x":0.21,"y":45},{"g":"V","i":20,"x":0.45,"y":130},{"g":"V","i":20,"x":1,"y":400},{"g":"V","i":20,"x":4.2,"y":700},{"g":"V","i":20,"x":12.7,"y":750},
      {"g":"V","i":21,"x":0.0105,"y":60},{"g":"V","i":21,"x":0.023,"y":50},{"g":"V","i":21,"x":0.07,"y":55},{"g":"V","i":21,"x":0.14,"y":100},{"g":"V","i":21,"x":0.21,"y":250},{"g":"V","i":21,"x":0.45,"y":900},{"g":"V","i":21,"x":1,"y":2000},{"g":"V","i":21,"x":4.2,"y":3000},{"g":"V","i":21,"x":12.7,"y":3200},
      {"g":"V","i":22,"x":0.0105,"y":14},{"g":"V","i":22,"x":0.023,"y":12},{"g":"V","i":22,"x":0.07,"y":15},{"g":"V","i":22,"x":0.14,"y":19},{"g":"V","i":22,"x":0.21,"y":26},{"g":"V","i":22,"x":0.45,"y":55},{"g":"V","i":22,"x":1,"y":140},{"g":"V","i":22,"x":4.2,"y":260},{"g":"V","i":22,"x":12.7,"y":230},
      {"g":"V","i":23,"x":0.0105,"y":27},{"g":"V","i":23,"x":0.023,"y":25},{"g":"V","i":23,"x":0.07,"y":30},{"g":"V","i":23,"x":0.14,"y":42},{"g":"V","i":23,"x":0.21,"y":70},{"g":"V","i":23,"x":0.45,"y":320},{"g":"V","i":23,"x":1,"y":1000},{"g":"V","i":23,"x":4.2,"y":2800},{"g":"V","i":23,"x":12.7,"y":3800},
      {"g":"V","i":24,"x":0.0105,"y":19},{"g":"V","i":24,"x":0.023,"y":21},{"g":"V","i":24,"x":0.07,"y":25},{"g":"V","i":24,"x":0.14,"y":34},{"g":"V","i":24,"x":0.21,"y":55},{"g":"V","i":24,"x":0.45,"y":210},{"g":"V","i":24,"x":1,"y":600},{"g":"V","i":24,"x":4.2,"y":1100},{"g":"V","i":24,"x":12.7,"y":1200},
      {"g":"V","i":25,"x":0.0105,"y":36},{"g":"V","i":25,"x":0.023,"y":32},{"g":"V","i":25,"x":0.07,"y":38},{"g":"V","i":25,"x":0.14,"y":55},{"g":"V","i":25,"x":0.21,"y":95},{"g":"V","i":25,"x":0.45,"y":420},{"g":"V","i":25,"x":1,"y":1100},{"g":"V","i":25,"x":4.2,"y":1800},{"g":"V","i":25,"x":12.7,"y":2000},
      {"g":"V","i":26,"x":0.0105,"y":23},{"g":"V","i":26,"x":0.023,"y":20},{"g":"V","i":26,"x":0.07,"y":24},{"g":"V","i":26,"x":0.14,"y":31},{"g":"V","i":26,"x":0.21,"y":45},{"g":"V","i":26,"x":0.45,"y":160},{"g":"V","i":26,"x":1,"y":480},{"g":"V","i":26,"x":4.2,"y":850},{"g":"V","i":26,"x":12.7,"y":900},
      {"g":"V","i":27,"x":0.0105,"y":42},{"g":"V","i":27,"x":0.023,"y":38},{"g":"V","i":27,"x":0.07,"y":45},{"g":"V","i":27,"x":0.14,"y":80},{"g":"V","i":27,"x":0.21,"y":180},{"g":"V","i":27,"x":0.45,"y":650},{"g":"V","i":27,"x":1,"y":1400},{"g":"V","i":27,"x":4.2,"y":2000},{"g":"V","i":27,"x":12.7,"y":2200},
      {"g":"V","i":28,"x":0.0105,"y":17},{"g":"V","i":28,"x":0.023,"y":15},{"g":"V","i":28,"x":0.07,"y":18},{"g":"V","i":28,"x":0.14,"y":24},{"g":"V","i":28,"x":0.21,"y":33},{"g":"V","i":28,"x":0.45,"y":95},{"g":"V","i":28,"x":1,"y":320},{"g":"V","i":28,"x":4.2,"y":1000},{"g":"V","i":28,"x":12.7,"y":1200},
      {"g":"V","i":29,"x":0.0105,"y":29},{"g":"V","i":29,"x":0.023,"y":27},{"g":"V","i":29,"x":0.07,"y":33},{"g":"V","i":29,"x":0.14,"y":48},{"g":"V","i":29,"x":0.21,"y":85},{"g":"V","i":29,"x":0.45,"y":380},{"g":"V","i":29,"x":1,"y":950},{"g":"V","i":29,"x":4.2,"y":1500},{"g":"V","i":29,"x":12.7,"y":1600},
      {"g":"V","i":30,"x":0.0105,"y":25},{"g":"V","i":30,"x":0.023,"y":22},{"g":"V","i":30,"x":0.07,"y":27},{"g":"V","i":30,"x":0.14,"y":36},{"g":"V","i":30,"x":0.21,"y":52},{"g":"V","i":30,"x":0.45,"y":190},{"g":"V","i":30,"x":1,"y":700},{"g":"V","i":30,"x":4.2,"y":1300},{"g":"V","i":30,"x":12.7,"y":1400}
    ],
    "eM": [
      {"g":"V","x":0.0105,"y":25.6},{"g":"V","x":0.023,"y":23.2},{"g":"V","x":0.035,"y":27.4},{"g":"V","x":0.07,"y":36.5},{"g":"V","x":0.14,"y":68},{"g":"V","x":0.21,"y":100},{"g":"V","x":0.45,"y":384},{"g":"V","x":1,"y":750},{"g":"V","x":4.2,"y":1400},{"g":"V","x":12.7,"y":1450},
      {"g":"D","x":0.0105,"y":25},{"g":"D","x":0.023,"y":24.5},{"g":"D","x":0.035,"y":28},{"g":"D","x":0.07,"y":36},{"g":"D","x":0.14,"y":68},{"g":"D","x":0.21,"y":105},{"g":"D","x":0.45,"y":420},{"g":"D","x":1,"y":960},{"g":"D","x":4.2,"y":1690},{"g":"D","x":12.7,"y":1820}
    ],
    "fT": [
      {"g":"D","i":1,"x":0.0115,"y":22},{"g":"D","i":1,"x":0.038,"y":25},{"g":"D","i":1,"x":0.073,"y":60},{"g":"D","i":1,"x":0.153,"y":2400},{"g":"D","i":1,"x":0.25,"y":1250},{"g":"D","i":1,"x":0.57,"y":1500},{"g":"D","i":1,"x":1.1,"y":2500},{"g":"D","i":1,"x":3.9,"y":3000},{"g":"D","i":1,"x":13.4,"y":3000},
      {"g":"D","i":2,"x":0.0115,"y":30},{"g":"D","i":2,"x":0.038,"y":34},{"g":"D","i":2,"x":0.073,"y":45},{"g":"D","i":2,"x":0.153,"y":90},{"g":"D","i":2,"x":0.25,"y":250},{"g":"D","i":2,"x":0.57,"y":900},{"g":"D","i":2,"x":1.1,"y":2500},{"g":"D","i":2,"x":3.9,"y":3500},{"g":"D","i":2,"x":13.4,"y":4000},
      {"g":"D","i":3,"x":0.0115,"y":27},{"g":"D","i":3,"x":0.038,"y":30},{"g":"D","i":3,"x":0.073,"y":35},{"g":"D","i":3,"x":0.153,"y":55},{"g":"D","i":3,"x":0.25,"y":110},{"g":"D","i":3,"x":0.57,"y":450},{"g":"D","i":3,"x":1.1,"y":1200},{"g":"D","i":3,"x":3.9,"y":2000},{"g":"D","i":3,"x":13.4,"y":2200},
      {"g":"D","i":4,"x":0.0115,"y":24},{"g":"D","i":4,"x":0.038,"y":22},{"g":"D","i":4,"x":0.073,"y":28},{"g":"D","i":4,"x":0.153,"y":40},{"g":"D","i":4,"x":0.25,"y":70},{"g":"D","i":4,"x":0.57,"y":250},{"g":"D","i":4,"x":1.1,"y":700},{"g":"D","i":4,"x":3.9,"y":1500},{"g":"D","i":4,"x":13.4,"y":1800},
      {"g":"D","i":5,"x":0.0115,"y":32},{"g":"D","i":5,"x":0.038,"y":36},{"g":"D","i":5,"x":0.073,"y":42},{"g":"D","i":5,"x":0.153,"y":75},{"g":"D","i":5,"x":0.25,"y":180},{"g":"D","i":5,"x":0.57,"y":700},{"g":"D","i":5,"x":1.1,"y":1500},{"g":"D","i":5,"x":3.9,"y":2100},{"g":"D","i":5,"x":13.4,"y":2300},
      {"g":"D","i":6,"x":0.0115,"y":18},{"g":"D","i":6,"x":0.038,"y":20},{"g":"D","i":6,"x":0.073,"y":22},{"g":"D","i":6,"x":0.153,"y":30},{"g":"D","i":6,"x":0.25,"y":45},{"g":"D","i":6,"x":0.57,"y":150},{"g":"D","i":6,"x":1.1,"y":500},{"g":"D","i":6,"x":3.9,"y":1200},{"g":"D","i":6,"x":13.4,"y":1400},
      {"g":"D","i":7,"x":0.0115,"y":35},{"g":"D","i":7,"x":0.038,"y":32},{"g":"D","i":7,"x":0.073,"y":38},{"g":"D","i":7,"x":0.153,"y":50},{"g":"D","i":7,"x":0.25,"y":90},{"g":"D","i":7,"x":0.57,"y":350},{"g":"D","i":7,"x":1.1,"y":1000},{"g":"D","i":7,"x":3.9,"y":1700},{"g":"D","i":7,"x":13.4,"y":1900},
      {"g":"D","i":8,"x":0.0115,"y":20},{"g":"D","i":8,"x":0.038,"y":14},{"g":"D","i":8,"x":0.073,"y":16},{"g":"D","i":8,"x":0.153,"y":30},{"g":"D","i":8,"x":0.25,"y":55},{"g":"D","i":8,"x":0.57,"y":200},{"g":"D","i":8,"x":1.1,"y":650},{"g":"D","i":8,"x":3.9,"y":1300},{"g":"D","i":8,"x":13.4,"y":1500},
      {"g":"D","i":9,"x":0.0115,"y":29},{"g":"D","i":9,"x":0.038,"y":31},{"g":"D","i":9,"x":0.073,"y":36},{"g":"D","i":9,"x":0.153,"y":60},{"g":"D","i":9,"x":0.25,"y":130},{"g":"D","i":9,"x":0.57,"y":550},{"g":"D","i":9,"x":1.1,"y":1300},{"g":"D","i":9,"x":3.9,"y":2000},{"g":"D","i":9,"x":13.4,"y":2100},
      {"g":"D","i":10,"x":0.0115,"y":26},{"g":"D","i":10,"x":0.038,"y":28},{"g":"D","i":10,"x":0.073,"y":30},{"g":"D","i":10,"x":0.153,"y":45},{"g":"D","i":10,"x":0.25,"y":85},{"g":"D","i":10,"x":0.57,"y":300},{"g":"D","i":10,"x":1.1,"y":900},{"g":"D","i":10,"x":3.9,"y":1600},{"g":"D","i":10,"x":13.4,"y":1700},
      {"g":"D","i":11,"x":0.0115,"y":38},{"g":"D","i":11,"x":0.038,"y":40},{"g":"D","i":11,"x":0.073,"y":48},{"g":"D","i":11,"x":0.153,"y":90},{"g":"D","i":11,"x":0.25,"y":230},{"g":"D","i":11,"x":0.57,"y":800},{"g":"D","i":11,"x":1.1,"y":1800},{"g":"D","i":11,"x":3.9,"y":2500},{"g":"D","i":11,"x":13.4,"y":2700},
      {"g":"D","i":12,"x":0.0115,"y":23},{"g":"D","i":12,"x":0.038,"y":25},{"g":"D","i":12,"x":0.073,"y":27},{"g":"D","i":12,"x":0.153,"y":38},{"g":"D","i":12,"x":0.25,"y":60},{"g":"D","i":12,"x":0.57,"y":220},{"g":"D","i":12,"x":1.1,"y":700},{"g":"D","i":12,"x":3.9,"y":1100},{"g":"D","i":12,"x":13.4,"y":1200},
      {"g":"V","i":1,"x":0.0115,"y":30},{"g":"V","i":1,"x":0.038,"y":32},{"g":"V","i":1,"x":0.073,"y":35},{"g":"V","i":1,"x":0.153,"y":45},{"g":"V","i":1,"x":0.25,"y":70},{"g":"V","i":1,"x":0.57,"y":180},{"g":"V","i":1,"x":1.1,"y":400},{"g":"V","i":1,"x":3.9,"y":900},{"g":"V","i":1,"x":13.4,"y":1000},
      {"g":"V","i":2,"x":0.0115,"y":35},{"g":"V","i":2,"x":0.038,"y":38},{"g":"V","i":2,"x":0.073,"y":40},{"g":"V","i":2,"x":0.153,"y":55},{"g":"V","i":2,"x":0.25,"y":90},{"g":"V","i":2,"x":0.57,"y":220},{"g":"V","i":2,"x":1.1,"y":500},{"g":"V","i":2,"x":3.9,"y":1100},{"g":"V","i":2,"x":13.4,"y":1200},
      {"g":"V","i":3,"x":0.0115,"y":28},{"g":"V","i":3,"x":0.038,"y":30},{"g":"V","i":3,"x":0.073,"y":33},{"g":"V","i":3,"x":0.153,"y":40},{"g":"V","i":3,"x":0.25,"y":55},{"g":"V","i":3,"x":0.57,"y":120},{"g":"V","i":3,"x":1.1,"y":300},{"g":"V","i":3,"x":3.9,"y":700},{"g":"V","i":3,"x":13.4,"y":800},
      {"g":"V","i":4,"x":0.0115,"y":40},{"g":"V","i":4,"x":0.038,"y":36},{"g":"V","i":4,"x":0.073,"y":45},{"g":"V","i":4,"x":0.153,"y":90},{"g":"V","i":4,"x":0.25,"y":300},{"g":"V","i":4,"x":0.57,"y":700},{"g":"V","i":4,"x":1.1,"y":1000},{"g":"V","i":4,"x":3.9,"y":1300},{"g":"V","i":4,"x":13.4,"y":1300},
      {"g":"V","i":5,"x":0.0115,"y":26},{"g":"V","i":5,"x":0.038,"y":28},{"g":"V","i":5,"x":0.073,"y":27},{"g":"V","i":5,"x":0.153,"y":30},{"g":"V","i":5,"x":0.25,"y":35},{"g":"V","i":5,"x":0.57,"y":45},{"g":"V","i":5,"x":1.1,"y":60},{"g":"V","i":5,"x":3.9,"y":100},{"g":"V","i":5,"x":13.4,"y":100},
      {"g":"V","i":6,"x":0.0115,"y":32},{"g":"V","i":6,"x":0.038,"y":30},{"g":"V","i":6,"x":0.073,"y":28},{"g":"V","i":6,"x":0.153,"y":27},{"g":"V","i":6,"x":0.25,"y":30},{"g":"V","i":6,"x":0.57,"y":35},{"g":"V","i":6,"x":1.1,"y":40},{"g":"V","i":6,"x":3.9,"y":50},{"g":"V","i":6,"x":13.4,"y":55},
      {"g":"V","i":7,"x":0.0115,"y":38},{"g":"V","i":7,"x":0.038,"y":42},{"g":"V","i":7,"x":0.073,"y":60},{"g":"V","i":7,"x":0.153,"y":150},{"g":"V","i":7,"x":0.25,"y":500},{"g":"V","i":7,"x":0.57,"y":1200},{"g":"V","i":7,"x":1.1,"y":1500},{"g":"V","i":7,"x":3.9,"y":1900},{"g":"V","i":7,"x":13.4,"y":1900},
      {"g":"V","i":8,"x":0.0115,"y":27},{"g":"V","i":8,"x":0.038,"y":29},{"g":"V","i":8,"x":0.073,"y":31},{"g":"V","i":8,"x":0.153,"y":38},{"g":"V","i":8,"x":0.25,"y":50},{"g":"V","i":8,"x":0.57,"y":130},{"g":"V","i":8,"x":1.1,"y":350},{"g":"V","i":8,"x":3.9,"y":800},{"g":"V","i":8,"x":13.4,"y":850},
      {"g":"V","i":9,"x":0.0115,"y":33},{"g":"V","i":9,"x":0.038,"y":35},{"g":"V","i":9,"x":0.073,"y":38},{"g":"V","i":9,"x":0.153,"y":50},{"g":"V","i":9,"x":0.25,"y":80},{"g":"V","i":9,"x":0.57,"y":250},{"g":"V","i":9,"x":1.1,"y":600},{"g":"V","i":9,"x":3.9,"y":1000},{"g":"V","i":9,"x":13.4,"y":1100},
      {"g":"V","i":10,"x":0.0115,"y":30},{"g":"V","i":10,"x":0.038,"y":26},{"g":"V","i":10,"x":0.073,"y":29},{"g":"V","i":10,"x":0.153,"y":36},{"g":"V","i":10,"x":0.25,"y":48},{"g":"V","i":10,"x":0.57,"y":110},{"g":"V","i":10,"x":1.1,"y":280},{"g":"V","i":10,"x":3.9,"y":600},{"g":"V","i":10,"x":13.4,"y":650},
      {"g":"V","i":11,"x":0.0115,"y":36},{"g":"V","i":11,"x":0.038,"y":34},{"g":"V","i":11,"x":0.073,"y":40},{"g":"V","i":11,"x":0.153,"y":60},{"g":"V","i":11,"x":0.25,"y":120},{"g":"V","i":11,"x":0.57,"y":350},{"g":"V","i":11,"x":1.1,"y":700},{"g":"V","i":11,"x":3.9,"y":1400},{"g":"V","i":11,"x":13.4,"y":1600}
    ],
    "fM": [
      {"g":"V","x":0.0115,"y":28.8},{"g":"V","x":0.038,"y":31},{"g":"V","x":0.073,"y":34.8},{"g":"V","x":0.153,"y":48},{"g":"V","x":0.25,"y":79},{"g":"V","x":0.57,"y":118},{"g":"V","x":1.1,"y":200},{"g":"V","x":1.8,"y":249},{"g":"V","x":3.9,"y":422},{"g":"V","x":7.9,"y":562},{"g":"V","x":13.4,"y":562},
      {"g":"D","x":0.0115,"y":26.6},{"g":"D","x":0.038,"y":31.6},{"g":"D","x":0.073,"y":42},{"g":"D","x":0.153,"y":75},{"g":"D","x":0.25,"y":87},{"g":"D","x":0.57,"y":237},{"g":"D","x":1.1,"y":422},{"g":"D","x":1.8,"y":714},{"g":"D","x":3.9,"y":1122},{"g":"D","x":7.9,"y":1442},{"g":"D","x":13.4,"y":1496}
    ]
  },
  "layer": [
    {
      "layer": [
        {"data": {"name": "aO"}, "mark": {"type": "line", "interpolate": "monotone", "color": "#e8731c", "strokeWidth": 1.3},
         "encoding": {"x": {"field": "t", "type": "quantitative", "scale": {"domain": [-2, 50], "range": [11, 349], "nice": false, "zero": false}, "axis": null},
                      "y": {"field": "v", "type": "quantitative", "scale": {"domain": [-1000, 100], "range": [129.2, 28.9], "nice": false, "zero": false}, "axis": null},
                      "detail": {"field": "i"}}},
        {"data": {"values": [{"t": 0.2, "v": 33, "v2": -515}]}, "mark": {"type": "rule", "color": "#e8731c", "strokeWidth": 2},
         "encoding": {"x": {"field": "t", "type": "quantitative", "scale": {"domain": [-2, 50], "range": [11, 349], "nice": false, "zero": false}, "axis": null},
                      "y": {"field": "v", "type": "quantitative", "scale": {"domain": [-1000, 100], "range": [129.2, 28.9], "nice": false, "zero": false}, "axis": null},
                      "y2": {"field": "v2"}}}
      ]
    },
    {
      "encoding": {
        "x": {"field": "t", "type": "quantitative", "scale": {"domain": [-2, 50], "range": [11, 349], "nice": false, "zero": false}, "axis": null},
        "y": {"field": "v", "type": "quantitative", "scale": {"domain": [-1200, 1400], "range": [264.4, 27.3], "nice": false, "zero": false}, "axis": null}
      },
      "layer": [
        {"data": {"name": "aG"}, "mark": {"type": "line", "interpolate": "monotone", "color": "#5c5c5c", "strokeWidth": 1.3}, "encoding": {"detail": {"field": "i"}}},
        {"data": {"values": [{"t": 0.2, "v": 186, "v2": -724}]}, "mark": {"type": "rule", "color": "#777777", "strokeWidth": 2}, "encoding": {"y2": {"field": "v2"}}},
        {"data": {"values": [{"t": -0.1, "v": 1316, "v2": -1129}]}, "mark": {"type": "rule", "color": "#000000", "strokeWidth": 2}, "encoding": {"y2": {"field": "v2"}}},
        {"data": {"values": [{"t": 39.9, "t2": 39.9, "v": -413, "v2": -913}, {"t": 39.9, "t2": 50.05, "v": -913, "v2": -913}]}, "mark": {"type": "rule", "color": "#222222", "strokeWidth": 1.5}, "encoding": {"x2": {"field": "t2"}, "y2": {"field": "v2"}}},
        {"data": {"values": [{"t": 38.8, "v": -658, "text": "500 pA"}]}, "mark": {"type": "text", "fontSize": 19, "align": "right", "baseline": "middle", "color": "#222222"}, "encoding": {"text": {"field": "text"}}},
        {"data": {"values": [{"t": 45.15, "v": -1058, "text": "10 ms"}]}, "mark": {"type": "text", "fontSize": 19, "align": "center", "baseline": "middle", "color": "#222222"}, "encoding": {"text": {"field": "text"}}},
        {"data": {"values": [{"t": -0.46, "v": 1436, "text": "A"}]}, "mark": {"type": "text", "fontSize": 25, "fontWeight": "bold", "align": "center", "baseline": "middle", "color": "#000000"}, "encoding": {"text": {"field": "text"}}}
      ]
    },
    {
      "encoding": {
        "x": {"field": "t", "type": "quantitative", "scale": {"domain": [-2, 49.5], "range": [373.5, 713.4], "nice": false, "zero": false}, "axis": null},
        "y": {"field": "v", "type": "quantitative", "scale": {"domain": [-2600, 2700], "range": [272, 33.5], "nice": false, "zero": false}, "axis": null}
      },
      "layer": [
        {"data": {"values": [{"t": 0, "t2": 5, "v": -2296, "v2": 2650}]}, "mark": {"type": "rect", "color": "#cdebf0"}, "encoding": {"x2": {"field": "t2"}, "y2": {"field": "v2"}}},
        {"data": {"name": "bG"}, "mark": {"type": "line", "interpolate": "monotone", "color": "#5c5c5c", "strokeWidth": 1.3}, "encoding": {"detail": {"field": "i"}}},
        {"data": {"values": [{"t": 39.5, "t2": 39.5, "v": -873, "v2": -1867}, {"t": 39.5, "t2": 49.5, "v": -1867, "v2": -1867}]}, "mark": {"type": "rule", "color": "#222222", "strokeWidth": 1.5}, "encoding": {"x2": {"field": "t2"}, "y2": {"field": "v2"}}},
        {"data": {"values": [{"t": 38.1, "v": -1333, "text": "1000 pA"}]}, "mark": {"type": "text", "fontSize": 19, "align": "right", "baseline": "middle", "color": "#222222"}, "encoding": {"text": {"field": "text"}}},
        {"data": {"values": [{"t": 44.7, "v": -2167, "text": "10 ms"}]}, "mark": {"type": "text", "fontSize": 19, "align": "center", "baseline": "middle", "color": "#222222"}, "encoding": {"text": {"field": "text"}}},
        {"data": {"values": [{"t": -0.52, "v": 2927, "text": "B"}]}, "mark": {"type": "text", "fontSize": 25, "fontWeight": "bold", "align": "center", "baseline": "middle", "color": "#000000"}, "encoding": {"text": {"field": "text"}}}
      ]
    },
    {
      "data": {"name": "bO"},
      "mark": {"type": "line", "interpolate": "monotone", "color": "#e8731c", "strokeWidth": 1.3},
      "encoding": {
        "x": {"field": "t", "type": "quantitative", "scale": {"domain": [-2, 49.5], "range": [373.5, 713.4], "nice": false, "zero": false}, "axis": null},
        "y": {"field": "v", "type": "quantitative", "scale": {"domain": [-2600, 200], "range": [154.7, 28.7], "nice": false, "zero": false}, "axis": null},
        "detail": {"field": "i"}
      }
    },
    {
      "encoding": {
        "x": {"field": "t", "type": "quantitative", "scale": {"domain": [-1.5, 49.5], "range": [740.1, 1076.7], "nice": false, "zero": false}, "axis": null},
        "y": {"field": "v", "type": "quantitative", "scale": {"domain": [-100, 2500], "range": [265.8, 28.7], "nice": false, "zero": false}, "axis": null}
      },
      "layer": [
        {"data": {"values": [{"t": 0, "t2": 5, "v": -14, "v2": 2398}]}, "mark": {"type": "rect", "color": "#cdebf0"}, "encoding": {"x2": {"field": "t2"}, "y2": {"field": "v2"}}},
        {"data": {"name": "cG"}, "mark": {"type": "line", "interpolate": "linear", "color": "#5c5c5c", "strokeWidth": 1.3}, "encoding": {"detail": {"field": "i"}}},
        {"data": {"values": [{"t": 39.4, "t2": 39.4, "v": 1433, "v2": 932}, {"t": 39.4, "t2": 49.4, "v": 932, "v2": 932}]}, "mark": {"type": "rule", "color": "#222222", "strokeWidth": 1.5}, "encoding": {"x2": {"field": "t2"}, "y2": {"field": "v2"}}},
        {"data": {"values": [{"t": 38.1, "v": 1206, "text": "500 pA"}]}, "mark": {"type": "text", "fontSize": 19, "align": "right", "baseline": "middle", "color": "#222222"}, "encoding": {"text": {"field": "text"}}},
        {"data": {"values": [{"t": 44.5, "v": 772, "text": "10 ms"}]}, "mark": {"type": "text", "fontSize": 19, "align": "center", "baseline": "middle", "color": "#222222"}, "encoding": {"text": {"field": "text"}}},
        {"data": {"values": [{"t": -0.6, "v": 2559, "text": "C"}]}, "mark": {"type": "text", "fontSize": 25, "fontWeight": "bold", "align": "center", "baseline": "middle", "color": "#000000"}, "encoding": {"text": {"field": "text"}}}
      ]
    },
    {
      "data": {"name": "cO"},
      "mark": {"type": "line", "interpolate": "linear", "color": "#e8731c", "strokeWidth": 1.3},
      "encoding": {
        "x": {"field": "t", "type": "quantitative", "scale": {"domain": [-1.5, 49.5], "range": [740.1, 1076.7], "nice": false, "zero": false}, "axis": null},
        "y": {"field": "v", "type": "quantitative", "scale": {"domain": [-100, 700], "range": [106.8, 33.9], "nice": false, "zero": false}, "axis": null},
        "detail": {"field": "i"}
      }
    },
    {
      "resolve": {"axis": {"x": "independent", "y": "independent"}},
      "layer": [
        {"data": {"name": "dT"}, "mark": {"type": "line", "strokeWidth": 1, "opacity": 0.3},
         "encoding": {
           "x": {"field": "x", "type": "quantitative", "scale": {"type": "log", "domain": [6.9, 218], "range": [63, 351], "nice": false},
                 "axis": {"orient": "bottom", "values": [10, 100], "labelExpr": "datum.value < 50 ? '10¹' : '10²'", "tickSize": 6, "tickWidth": 2, "domainWidth": 1.8, "labelPadding": 2, "grid": false, "title": "Electrical Stimulus (µA)", "titlePadding": 8}},
           "y": {"field": "y", "type": "quantitative", "scale": {"type": "log", "domain": [10, 10000], "range": [561, 320], "nice": false},
                 "axis": {"orient": "left", "offset": -63, "values": [10, 100, 1000, 10000], "labelExpr": "datum.value < 50 ? '10¹' : datum.value < 500 ? '10²' : datum.value < 5000 ? '10³' : '10⁴'", "domain": false, "ticks": false, "grid": true, "labelPadding": 5, "title": "IPSC Amplitude (pA)", "titlePadding": 4}},
           "detail": [{"field": "g"}, {"field": "i"}],
           "color": {"condition": {"test": "datum.g === 'V'", "value": "#ee8a3f"}, "value": "#8c8c8c"}
         }},
        {"data": {"name": "dM"}, "transform": [{"filter": "datum.g === 'D'"}], "mark": {"type": "line", "strokeWidth": 3.5, "color": "#6d6d6d"},
         "encoding": {
           "x": {"field": "x", "type": "quantitative", "scale": {"type": "log", "domain": [6.9, 218], "range": [63, 351], "nice": false},
                 "axis": {"orient": "bottom", "values": [7, 8, 9, 20, 30, 40, 50, 60, 70, 80, 90, 200], "labels": false, "tickSize": -3, "tickWidth": 1, "domain": false, "grid": false, "title": null}},
           "y": {"field": "y", "type": "quantitative", "scale": {"type": "log", "domain": [10, 10000], "range": [561, 320], "nice": false}, "axis": null}
         }},
        {"data": {"name": "dM"}, "transform": [{"filter": "datum.g === 'V'"}], "mark": {"type": "line", "strokeWidth": 3.5, "color": "#df6212"},
         "encoding": {
           "x": {"field": "x", "type": "quantitative", "scale": {"type": "log", "domain": [6.9, 218], "range": [63, 351], "nice": false}, "axis": null},
           "y": {"field": "y", "type": "quantitative", "scale": {"type": "log", "domain": [10, 10000], "range": [561, 320], "nice": false}, "axis": null}
         }},
        {"data": {"values": [{"x": 33.8, "y": 23040, "text": "Electrically evoked total inhibition"}]}, "mark": {"type": "text", "fontSize": 21, "align": "center", "baseline": "middle", "color": "#222222"},
         "encoding": {
           "x": {"field": "x", "type": "quantitative", "scale": {"type": "log", "domain": [6.9, 218], "range": [63, 351], "nice": false}, "axis": null},
           "y": {"field": "y", "type": "quantitative", "scale": {"type": "log", "domain": [10, 10000], "range": [561, 320], "nice": false}, "axis": null},
           "text": {"field": "text"}
         }},
        {"data": {"values": [{"x": 4.37, "y": 21760, "text": "D"}]}, "mark": {"type": "text", "fontSize": 25, "fontWeight": "bold", "align": "center", "baseline": "middle", "color": "#000000"},
         "encoding": {
           "x": {"field": "x", "type": "quantitative", "scale": {"type": "log", "domain": [6.9, 218], "range": [63, 351], "nice": false}, "axis": null},
           "y": {"field": "y", "type": "quantitative", "scale": {"type": "log", "domain": [10, 10000], "range": [561, 320], "nice": false}, "axis": null},
           "text": {"field": "text"}
         }},
        {"data": {"values": [{"g": "V", "x": 6.98, "y": 6310, "text": "23"}, {"g": "D", "x": 27.88, "y": 6310, "text": "23"}]}, "mark": {"type": "text", "fontSize": 20, "fontWeight": "bold", "align": "left", "baseline": "middle"},
         "encoding": {
           "x": {"field": "x", "type": "quantitative", "scale": {"type": "log", "domain": [6.9, 218], "range": [63, 351], "nice": false}, "axis": null},
           "y": {"field": "y", "type": "quantitative", "scale": {"type": "log", "domain": [10, 10000], "range": [561, 320], "nice": false}, "axis": null},
           "text": {"field": "text"},
           "color": {"condition": {"test": "datum.g === 'V'", "value": "#e8650a"}, "value": "#666666"}
         }},
        {"data": {"values": [{"g": "V", "x": 9.88, "y": 6310, "text": "Ventral"}, {"g": "D", "x": 39.5, "y": 6310, "text": "Dorsal"}]}, "mark": {"type": "text", "fontSize": 20, "align": "left", "baseline": "middle"},
         "encoding": {
           "x": {"field": "x", "type": "quantitative", "scale": {"type": "log", "domain": [6.9, 218], "range": [63, 351], "nice": false}, "axis": null},
           "y": {"field": "y", "type": "quantitative", "scale": {"type": "log", "domain": [10, 10000], "range": [561, 320], "nice": false}, "axis": null},
           "text": {"field": "text"},
           "color": {"condition": {"test": "datum.g === 'V'", "value": "#e8650a"}, "value": "#8a8a8a"}
         }}
      ]
    },
    {
      "resolve": {"axis": {"x": "independent", "y": "independent"}},
      "layer": [
        {"data": {"name": "eT"}, "mark": {"type": "line", "strokeWidth": 1, "opacity": 0.3},
         "encoding": {
           "x": {"field": "x", "type": "quantitative", "scale": {"type": "log", "domain": [0.00645, 15.5], "range": [425, 740], "nice": false},
                 "axis": {"orient": "bottom", "values": [0.01, 0.1, 1, 10], "labelExpr": "datum.value < 0.05 ? '10⁻²' : datum.value < 0.5 ? '10⁻¹' : datum.value < 5 ? '10⁰' : '10¹'", "tickSize": 6, "tickWidth": 2, "domainWidth": 1.8, "labelPadding": 2, "grid": false, "title": "Laser Intensity (mW)", "titleX": 732, "titlePadding": 8}},
           "y": {"field": "y", "type": "quantitative", "scale": {"type": "log", "domain": [10, 10000], "range": [561, 320], "nice": false},
                 "axis": {"orient": "left", "offset": -425, "values": [10, 100, 1000, 10000], "labelExpr": "datum.value < 50 ? '10¹' : datum.value < 500 ? '10²' : datum.value < 5000 ? '10³' : '10⁴'", "domain": false, "ticks": false, "grid": true, "labelPadding": 3, "title": "IPSC Amplitude (pA)", "titlePadding": 4}},
           "detail": [{"field": "g"}, {"field": "i"}],
           "color": {"condition": {"test": "datum.g === 'V'", "value": "#ee8a3f"}, "value": "#8c8c8c"}
         }},
        {"data": {"name": "eM"}, "transform": [{"filter": "datum.g === 'V'"}], "mark": {"type": "line", "strokeWidth": 3.5, "color": "#df6212"},
         "encoding": {
           "x": {"field": "x", "type": "quantitative", "scale": {"type": "log", "domain": [0.00645, 15.5], "range": [425, 740], "nice": false},
                 "axis": {"orient": "bottom", "values": [0.007, 0.008, 0.009, 0.02, 0.03, 0.04, 0.05, 0.06, 0.07, 0.08, 0.09, 0.2, 0.3, 0.4, 0.5, 0.6, 0.7, 0.8, 0.9, 2, 3, 4, 5, 6, 7, 8, 9], "labels": false, "tickSize": -3, "tickWidth": 1, "domain": false, "grid": false, "title": null}},
           "y": {"field": "y", "type": "quantitative", "scale": {"type": "log", "domain": [10, 10000], "range": [561, 320], "nice": false}, "axis": null}
         }},
        {"data": {"name": "eM"}, "transform": [{"filter": "datum.g === 'D'"}], "mark": {"type": "line", "strokeWidth": 3.5, "color": "#6d6d6d"},
         "encoding": {
           "x": {"field": "x", "type": "quantitative", "scale": {"type": "log", "domain": [0.00645, 15.5], "range": [425, 740], "nice": false}, "axis": null},
           "y": {"field": "y", "type": "quantitative", "scale": {"type": "log", "domain": [10, 10000], "range": [561, 320], "nice": false}, "axis": null}
         }},
        {"data": {"values": [{"x": 0.316, "y": 23040, "text": "Optically evoked total inhibition"}]}, "mark": {"type": "text", "fontSize": 21, "align": "center", "baseline": "middle", "color": "#222222"},
         "encoding": {
           "x": {"field": "x", "type": "quantitative", "scale": {"type": "log", "domain": [0.00645, 15.5], "range": [425, 740], "nice": false}, "axis": null},
           "y": {"field": "y", "type": "quantitative", "scale": {"type": "log", "domain": [10, 10000], "range": [561, 320], "nice": false}, "axis": null},
           "text": {"field": "text"}
         }},
        {"data": {"values": [{"x": 0.002193, "y": 21760, "text": "E"}]}, "mark": {"type": "text", "fontSize": 25, "fontWeight": "bold", "align": "center", "baseline": "middle", "color": "#000000"},
         "encoding": {
           "x": {"field": "x", "type": "quantitative", "scale": {"type": "log", "domain": [0.00645, 15.5], "range": [425, 740], "nice": false}, "axis": null},
           "y": {"field": "y", "type": "quantitative", "scale": {"type": "log", "domain": [10, 10000], "range": [561, 320], "nice": false}, "axis": null},
           "text": {"field": "text"}
         }},
        {"data": {"values": [{"g": "V", "x": 0.0064, "y": 6310, "text": "30"}, {"g": "D", "x": 0.1123, "y": 6310, "text": "30"}]}, "mark": {"type": "text", "fontSize": 20, "fontWeight": "bold", "align": "left", "baseline": "middle"},
         "encoding": {
           "x": {"field": "x", "type": "quantitative", "scale": {"type": "log", "domain": [0.00645, 15.5], "range": [425, 740], "nice": false}, "axis": null},
           "y": {"field": "y", "type": "quantitative", "scale": {"type": "log", "domain": [10, 10000], "range": [561, 320], "nice": false}, "axis": null},
           "text": {"field": "text"},
           "color": {"condition": {"test": "datum.g === 'V'", "value": "#e8650a"}, "value": "#666666"}
         }},
        {"data": {"values": [{"g": "V", "x": 0.01346, "y": 6310, "text": "Ventral"}, {"g": "D", "x": 0.232, "y": 6310, "text": "Dorsal"}]}, "mark": {"type": "text", "fontSize": 20, "align": "left", "baseline": "middle"},
         "encoding": {
           "x": {"field": "x", "type": "quantitative", "scale": {"type": "log", "domain": [0.00645, 15.5], "range": [425, 740], "nice": false}, "axis": null},
           "y": {"field": "y", "type": "quantitative", "scale": {"type": "log", "domain": [10, 10000], "range": [561, 320], "nice": false}, "axis": null},
           "text": {"field": "text"},
           "color": {"condition": {"test": "datum.g === 'V'", "value": "#e8650a"}, "value": "#8a8a8a"}
         }}
      ]
    },
    {
      "resolve": {"axis": {"x": "independent", "y": "independent"}},
      "layer": [
        {"data": {"name": "fT"}, "mark": {"type": "line", "strokeWidth": 1, "opacity": 0.3},
         "encoding": {
           "x": {"field": "x", "type": "quantitative", "scale": {"type": "log", "domain": [0.0069, 16.6], "range": [761, 1077], "nice": false},
                 "axis": {"orient": "bottom", "values": [0.01, 0.1, 1, 10], "labelExpr": "datum.value < 0.05 ? '10⁻²' : datum.value < 0.5 ? '10⁻¹' : datum.value < 5 ? '10⁰' : '10¹'", "tickSize": 6, "tickWidth": 2, "domainWidth": 1.8, "labelPadding": 2, "grid": false, "title": null}},
           "y": {"field": "y", "type": "quantitative", "scale": {"type": "log", "domain": [10, 10000], "range": [561, 320], "nice": false},
                 "axis": {"orient": "left", "offset": -761, "values": [100, 1000, 10000], "labels": false, "domain": false, "ticks": false, "grid": true, "title": null}},
           "detail": [{"field": "g"}, {"field": "i"}],
           "color": {"condition": {"test": "datum.g === 'V'", "value": "#ee8a3f"}, "value": "#8c8c8c"}
         }},
        {"data": {"name": "fM"}, "transform": [{"filter": "datum.g === 'V'"}], "mark": {"type": "line", "strokeWidth": 3.5, "color": "#df6212"},
         "encoding": {
           "x": {"field": "x", "type": "quantitative", "scale": {"type": "log", "domain": [0.0069, 16.6], "range": [761, 1077], "nice": false},
                 "axis": {"orient": "bottom", "values": [0.007, 0.008, 0.009, 0.02, 0.03, 0.04, 0.05, 0.06, 0.07, 0.08, 0.09, 0.2, 0.3, 0.4, 0.5, 0.6, 0.7, 0.8, 0.9, 2, 3, 4, 5, 6, 7, 8, 9], "labels": false, "tickSize": -3, "tickWidth": 1, "domain": false, "grid": false, "title": null}},
           "y": {"field": "y", "type": "quantitative", "scale": {"type": "log", "domain": [10, 10000], "range": [561, 320], "nice": false}, "axis": null}
         }},
        {"data": {"name": "fM"}, "transform": [{"filter": "datum.g === 'D'"}], "mark": {"type": "line", "strokeWidth": 3.5, "color": "#6d6d6d"},
         "encoding": {
           "x": {"field": "x", "type": "quantitative", "scale": {"type": "log", "domain": [0.0069, 16.6], "range": [761, 1077], "nice": false}, "axis": null},
           "y": {"field": "y", "type": "quantitative", "scale": {"type": "log", "domain": [10, 10000], "range": [561, 320], "nice": false}, "axis": null}
         }},
        {"data": {"values": [{"x": 16.17, "x2": 24.75, "y": 1081, "y2": 2304}]}, "mark": {"type": "rect", "color": "#c6c6c6"},
         "encoding": {
           "x": {"field": "x", "type": "quantitative", "scale": {"type": "log", "domain": [0.0069, 16.6], "range": [761, 1077], "nice": false}, "axis": null},
           "y": {"field": "y", "type": "quantitative", "scale": {"type": "log", "domain": [10, 10000], "range": [561, 320], "nice": false}, "axis": null},
           "x2": {"field": "x2"}, "y2": {"field": "y2"}
         }},
        {"data": {"values": [{"x": 18.74, "x2": 24.75, "y": 794, "y2": 1081}]}, "mark": {"type": "rect", "color": {"gradient": "linear", "x1": 0, "y1": 0, "x2": 0, "y2": 1, "stops": [{"offset": 0, "color": "#c6c6c6"}, {"offset": 1, "color": "#f3b98c"}]}},
         "encoding": {
           "x": {"field": "x", "type": "quantitative", "scale": {"type": "log", "domain": [0.0069, 16.6], "range": [761, 1077], "nice": false}, "axis": null},
           "y": {"field": "y", "type": "quantitative", "scale": {"type": "log", "domain": [10, 10000], "range": [561, 320], "nice": false}, "axis": null},
           "x2": {"field": "x2"}, "y2": {"field": "y2"}
         }},
        {"data": {"values": [{"x": 16.44, "x2": 25.2, "y": 355, "y2": 794}]}, "mark": {"type": "rect", "color": "#f3b98c"},
         "encoding": {
           "x": {"field": "x", "type": "quantitative", "scale": {"type": "log", "domain": [0.0069, 16.6], "range": [761, 1077], "nice": false}, "axis": null},
           "y": {"field": "y", "type": "quantitative", "scale": {"type": "log", "domain": [10, 10000], "range": [561, 320], "nice": false}, "axis": null},
           "x2": {"field": "x2"}, "y2": {"field": "y2"}
         }},
        {"data": {"values": [{"x": 32.2, "y": 955, "text": "p < 0.05"}]}, "mark": {"type": "text", "fontSize": 14.5, "angle": 270, "align": "center", "baseline": "middle", "color": "#444444"},
         "encoding": {
           "x": {"field": "x", "type": "quantitative", "scale": {"type": "log", "domain": [0.0069, 16.6], "range": [761, 1077], "nice": false}, "axis": null},
           "y": {"field": "y", "type": "quantitative", "scale": {"type": "log", "domain": [10, 10000], "range": [561, 320], "nice": false}, "axis": null},
           "text": {"field": "text"}
         }},
        {"data": {"values": [{"x": 0.33, "y": 38680, "text": "Optically evoked total"}, {"x": 0.33, "y": 17780, "text": "inhibition onto interneurons"}]}, "mark": {"type": "text", "fontSize": 21, "align": "center", "baseline": "middle", "color": "#222222"},
         "encoding": {
           "x": {"field": "x", "type": "quantitative", "scale": {"type": "log", "domain": [0.0069, 16.6], "range": [761, 1077], "nice": false}, "axis": null},
           "y": {"field": "y", "type": "quantitative", "scale": {"type": "log", "domain": [10, 10000], "range": [561, 320], "nice": false}, "axis": null},
           "text": {"field": "text"}
         }},
        {"data": {"values": [{"x": 0.00821, "y": 21130, "text": "F"}]}, "mark": {"type": "text", "fontSize": 25, "fontWeight": "bold", "align": "center", "baseline": "middle", "color": "#000000"},
         "encoding": {
           "x": {"field": "x", "type": "quantitative", "scale": {"type": "log", "domain": [0.0069, 16.6], "range": [761, 1077], "nice": false}, "axis": null},
           "y": {"field": "y", "type": "quantitative", "scale": {"type": "log", "domain": [10, 10000], "range": [561, 320], "nice": false}, "axis": null},
           "text": {"field": "text"}
         }},
        {"data": {"values": [{"g": "V", "x": 0.00721, "y": 6310, "text": "11"}, {"g": "D", "x": 0.1212, "y": 6310, "text": "12"}]}, "mark": {"type": "text", "fontSize": 20, "fontWeight": "bold", "align": "left", "baseline": "middle"},
         "encoding": {
           "x": {"field": "x", "type": "quantitative", "scale": {"type": "log", "domain": [0.0069, 16.6], "range": [761, 1077], "nice": false}, "axis": null},
           "y": {"field": "y", "type": "quantitative", "scale": {"type": "log", "domain": [10, 10000], "range": [561, 320], "nice": false}, "axis": null},
           "text": {"field": "text"},
           "color": {"condition": {"test": "datum.g === 'V'", "value": "#e8650a"}, "value": "#666666"}
         }},
        {"data": {"values": [{"g": "V", "x": 0.01472, "y": 6310, "text": "Ventral"}, {"g": "D", "x": 0.2457, "y": 6310, "text": "Dorsal"}]}, "mark": {"type": "text", "fontSize": 20, "align": "left", "baseline": "middle"},
         "encoding": {
           "x": {"field": "x", "type": "quantitative", "scale": {"type": "log", "domain": [0.0069, 16.6], "range": [761, 1077], "nice": false}, "axis": null},
           "y": {"field": "y", "type": "quantitative", "scale": {"type": "log", "domain": [10, 10000], "range": [561, 320], "nice": false}, "axis": null},
           "text": {"field": "text"},
           "color": {"condition": {"test": "datum.g === 'V'", "value": "#e8650a"}, "value": "#8a8a8a"}
         }}
      ]
    }
  ],
  "resolve": {"scale": {"x": "independent", "y": "independent"}}
}
